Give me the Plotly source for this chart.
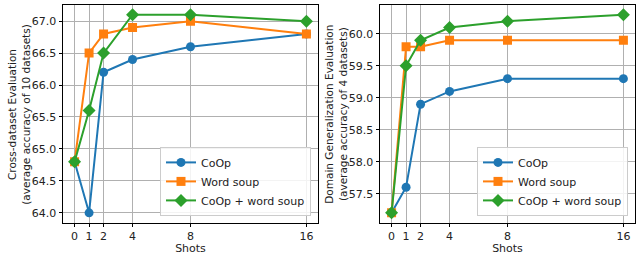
import plotly.graph_objects as go

shots = [0, 1, 2, 4, 8, 16]
shot_labels = ["0", "1", "2", "4", "8", "16"]

cross_coop = [64.8, 64.0, 66.2, 66.4, 66.6, 66.8]
cross_soup = [64.8, 66.5, 66.8, 66.9, 67.0, 66.8]
cross_both = [64.8, 65.6, 66.5, 67.1, 67.1, 67.0]

dg_coop = [57.2, 57.6, 58.9, 59.1, 59.3, 59.3]
dg_soup = [57.2, 59.8, 59.8, 59.9, 59.9, 59.9]
dg_both = [57.2, 59.5, 59.9, 60.1, 60.2, 60.3]

series_names = ["CoOp", "Word soup", "CoOp + word soup"]
colors = ["#1f77b4", "#ff7f0e", "#2ca02c"]
symbols = ["circle", "square", "diamond"]
sizes = [9, 9, 10]

left_title = "Cross-dataset Evaluation<br>(average accuracy of 10 datasets)"
right_title = "Domain Generalization Evaluation<br>(average accuracy of 4 datasets)"

W, H = 637, 255
fig = go.Figure()

panels = [
    ([cross_coop, cross_soup, cross_both], "x", "y", "legend"),
    ([dg_coop, dg_soup, dg_both], "x2", "y2", "legend2"),
]
for data, xa, ya, lg in panels:
    for vals, name, c, s, sz in zip(data, series_names, colors, symbols, sizes):
        fig.add_trace(go.Scatter(
            x=shots, y=vals, name=name, mode="lines+markers",
            line=dict(color=c, width=2), marker=dict(symbol=s, size=sz, color=c),
            xaxis=xa, yaxis=ya, legend=lg))

font = dict(family="DejaVu Sans", size=11, color="#222")
axcommon = dict(showline=True, linecolor="black", linewidth=1, mirror=True,
                showgrid=True, gridcolor="#b0b0b0", gridwidth=1, zeroline=False,
                ticks="outside", ticklen=3.5, tickcolor="black", tickfont=font)

x0a, x1a = 63 / W, 318 / W
x0b, x1b = 380 / W, 635 / W
y0, y1 = 1 - 229 / H, 1 - 5 / H

fig.update_layout(
    width=W, height=H, margin=dict(l=0, r=0, t=0, b=0),
    paper_bgcolor="white", plot_bgcolor="white", font=font,
    xaxis=dict(domain=[x0a, x1a], range=[-0.8, 16.8], tickvals=shots, ticktext=shot_labels,
               title=dict(text="Shots", font=font, standoff=4), anchor="y", **axcommon),
    yaxis=dict(domain=[y0, y1], range=[63.845, 67.255], dtick=0.5, tickformat=".1f",
               anchor="x", **axcommon),
    xaxis2=dict(domain=[x0b, x1b], range=[-0.8, 16.8], tickvals=shots, ticktext=shot_labels,
                title=dict(text="Shots", font=font, standoff=4), anchor="y2", **axcommon),
    yaxis2=dict(domain=[y0, y1], range=[57.045, 60.455], dtick=0.5, tickformat=".1f",
                anchor="x2", **axcommon),
    legend=dict(x=311 / W, y=1 - 222 / H, xanchor="right", yanchor="bottom",
                bgcolor="rgba(255,255,255,0.85)", bordercolor="#cccccc", borderwidth=1,
                font=font, itemwidth=30, tracegroupgap=0),
    legend2=dict(x=628 / W, y=1 - 222 / H, xanchor="right", yanchor="bottom",
                 bgcolor="rgba(255,255,255,0.85)", bordercolor="#cccccc", borderwidth=1,
                 font=font, itemwidth=30, tracegroupgap=0),
    showlegend=True,
)

title_font = dict(family="DejaVu Sans", size=10.5, color="#222")
fig.add_annotation(text=left_title, textangle=-90, xref="paper", yref="paper",
                   x=19 / W, y=1 - 118 / H, xanchor="center", yanchor="middle",
                   showarrow=False, font=title_font)
fig.add_annotation(text=right_title, textangle=-90, xref="paper", yref="paper",
                   x=(317 + 19) / W, y=1 - 118 / H, xanchor="center", yanchor="middle",
                   showarrow=False, font=title_font)

fig.write_html("out.html", config={"displayModeBar": False},
               post_script="document.body.style.margin='0px';")
